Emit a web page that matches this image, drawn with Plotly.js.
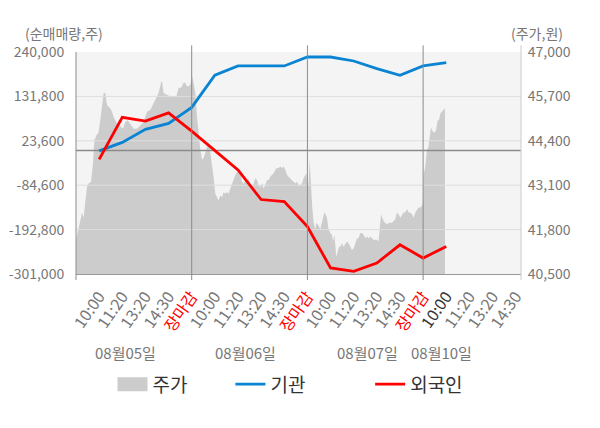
<!DOCTYPE html>
<html>
<head>
<meta charset="utf-8">
<script src="https://cdn.plot.ly/plotly-3.0.1.min.js"></script>
<style>
html, body { margin: 0; padding: 0; background: #fff; }
#myDiv { width: 600px; height: 428px; }
</style>
</head>
<body>
<div id="myDiv"></div>
<script>
var days = ['08월05일', '08월06일', '08월07일', '08월10일'];
var slotLabels = ['10:00', '11:20', '13:20', '14:30', '장마감'];
// where the date caption sits under each day (in day units)
var dayLabelPos = [0.426, 1.463, 2.518, 3.158];

var netTicks = [240000, 131800, 23600, -84600, -192800, -301000];
var priceTicks = [47000, 45700, 44400, 43100, 41800, 40500];

// cumulative net buying, one value per slot (last day only reached 10:00)
var instNet = [-1000, 19800, 51400, 66000, 104900,
               183400, 206000, 206000, 206000, 227800,
               227800, 218100, 199600, 183400, 206000,
               214200];
var foreignNet = [-21500, 80600, 71600, 91800, 47000,
                  0, -47500, -119500, -124500, -185300,
                  -286400, -294600, -274300, -229800, -262100,
                  -233900];

// share price, time in day units (0 = 08/05 open)
var priceTime = [0, .022, .043, .052, .066, .080, .095, .109, .130, .147, .158, .175, .195, .210, .225, .239, .253, .268, .282, .296,
  .311, .325, .354, .383, .406, .426, .446, .469, .498, .527, .556, .584, .614, .642, .671, .694, .714, .735, .743, .757,
  .787, .815, .844, .867, .887, .908, .930, .945, .959, .973, .988,
  1.003, 1.016, 1.031, 1.046, 1.060, 1.074, 1.089, 1.103, 1.118, 1.132, 1.146, 1.161, 1.175, 1.189, 1.204, 1.219, 1.232, 1.247, 1.262, 1.276,
  1.290, 1.305, 1.319, 1.334, 1.348, 1.362, 1.377, 1.392, 1.405, 1.420, 1.435, 1.449, 1.463, 1.478, 1.492, 1.506, 1.521, 1.535, 1.550, 1.564,
  1.578, 1.593, 1.608, 1.621, 1.636, 1.651, 1.665, 1.679, 1.694, 1.708, 1.723, 1.737, 1.751, 1.766, 1.780, 1.794, 1.809, 1.824, 1.837, 1.852,
  1.867, 1.881, 1.895, 1.910, 1.924, 1.939, 1.953, 1.967, 1.982, 1.990,
  2.002, 2.010, 2.019, 2.031, 2.042, 2.054, 2.068, 2.077, 2.088, 2.100, 2.111, 2.123, 2.135, 2.146, 2.157, 2.169, 2.183, 2.198, 2.213, 2.221,
  2.233, 2.241, 2.250, 2.261, 2.273, 2.284, 2.299, 2.313, 2.328, 2.342, 2.356, 2.371, 2.385, 2.399, 2.414, 2.429, 2.442, 2.457, 2.472, 2.486,
  2.500, 2.515, 2.529, 2.544, 2.558, 2.572, 2.587, 2.602, 2.615, 2.624, 2.636, 2.647, 2.659, 2.673, 2.688, 2.702, 2.716, 2.731, 2.745, 2.760,
  2.774, 2.788, 2.803, 2.818, 2.831, 2.846, 2.861, 2.875, 2.889, 2.904, 2.918, 2.933, 2.947, 2.961, 2.976, 2.990, 2.999,
  3.004, 3.019, 3.034, 3.045, 3.056, 3.068, 3.079, 3.091, 3.103, 3.114, 3.125, 3.137, 3.149, 3.160, 3.172, 3.183, 3.189];
var price = [41500, 41800, 42150, 42300, 42150, 42600, 43050, 43150, 43200, 43750, 44400, 44550, 44650, 45000, 45400, 45800, 45800, 45450, 45400, 45350,
  45250, 45100, 44900, 44800, 44750, 44950, 45000, 44900, 44750, 44750, 44850, 44950, 45250, 45300, 45500, 45650, 45800, 46100, 46150, 45800,
  45750, 45700, 45700, 45700, 45950, 45950, 46100, 46100, 46000, 46000, 46050,
  46300, 46100, 45800, 45100, 44600, 44150, 43850, 43900, 44050, 44200, 44350, 44050, 43750, 43350, 42850, 42750, 42650, 42800, 42750, 42900,
  42850, 42900, 42850, 43000, 43150, 43250, 43400, 43500, 43450, 43500, 43200, 43150, 43250, 43150, 43300, 43100, 43050, 43150, 43300, 43250,
  43100, 43050, 43150, 43000, 43100, 43250, 43250, 43350, 43400, 43450, 43550, 43600, 43600, 43650, 43600, 43650, 43550, 43400, 43350, 43300,
  43250, 43200, 43150, 43200, 43100, 43100, 43150, 43300, 43400, 43450,
  43050, 43100, 43850, 42950, 42450, 42000, 41800, 42000, 41950, 41900, 41800, 42000, 42150, 42300, 42250, 42150, 41800, 41700, 41650, 41450,
  41650, 41400, 41000, 41150, 41300, 41300, 41400, 41300, 41400, 41450, 41400, 41300, 41200, 41250, 41400, 41550, 41550, 41700, 41700, 41650,
  41550, 41600, 41550, 41600, 41550, 41500, 41500, 41500, 41450, 41900, 42250, 42150, 42050, 42000, 41950, 42000, 42000, 42000, 42050, 42100,
  42300, 42250, 42150, 42250, 42300, 42300, 42400, 42300, 42300, 42250, 42150, 42300, 42400, 42450, 42450, 42500, 42600,
  43400, 43650, 44150, 44200, 44500, 44800, 44700, 44650, 44650, 44750, 45000, 45000, 45200, 45250, 45300, 45350, 45350];

var xEnd = 3.846;

function fmt(v) {
  return v.toLocaleString('en-US');
}

// slot positions along the time axis: five per day
function slotX(i) {
  return Math.floor(i / 5) + (i % 5 + 1) / 5;
}

var tickX = [];
var tickText = [];
days.forEach(function (d, di) {
  slotLabels.forEach(function (s, si) {
    var x = di + (si + 1) / 5;
    if (x > xEnd) return;
    tickX.push(x);
    if (si === 4) {
      tickText.push('<span style="color:#ff0000">' + s + '</span>');
    } else if (di === days.length - 1 && si === 0) {
      tickText.push('<span style="color:#333333">' + s + '</span>');
    } else {
      tickText.push(s);
    }
  });
});

var netX = instNet.map(function (v, i) { return slotX(i); });

// inner grid lines of the net axis, drawn as a trace so they sit over the price area
var gridX = [], gridY = [];
netTicks.slice(1, -1).forEach(function (v) {
  gridX.push(0, xEnd, null);
  gridY.push(v, v, null);
});

var traces = [
  {
    name: '주가', x: priceTime, y: price, yaxis: 'y',
    type: 'scatter', mode: 'lines', fill: 'tozeroy',
    fillcolor: '#cccccc', line: {color: 'rgba(0,0,0,0)', width: 0},
    legend: 'legend'
  },
  {
    x: gridX, y: gridY, yaxis: 'y2', type: 'scatter', mode: 'lines',
    line: {color: '#dedede', width: 1}, showlegend: false, hoverinfo: 'skip'
  },
  {
    x: [0, xEnd], y: [0, 0], yaxis: 'y2', type: 'scatter', mode: 'lines',
    line: {color: '#8a8a8a', width: 1.3}, showlegend: false, hoverinfo: 'skip'
  },
  {
    name: '기관', x: netX, y: instNet, yaxis: 'y2',
    type: 'scatter', mode: 'lines', line: {color: '#0a84d2', width: 2.8},
    legend: 'legend2'
  },
  {
    name: '외국인', x: netX, y: foreignNet, yaxis: 'y2',
    type: 'scatter', mode: 'lines', line: {color: '#ff0000', width: 2.8},
    legend: 'legend3'
  }
];

var shapes = [];
for (var d = 1; d < days.length; d++) {
  shapes.push({type: 'line', xref: 'x', yref: 'paper', x0: d, x1: d, y0: -0.027, y1: 1.03,
    line: {color: '#8c8c8c', width: 1}});
}
shapes.push({type: 'line', xref: 'paper', yref: 'paper', x0: 0, x1: 0, y0: -0.027, y1: 1,
  line: {color: '#8c8c8c', width: 1}});
shapes.push({type: 'line', xref: 'paper', yref: 'paper', x0: 1, x1: 1, y0: -0.027, y1: 1.03,
  line: {color: '#cccccc', width: 1}});

var annotations = [
  {text: '(순매매량,주)', xref: 'paper', yref: 'paper', x: -0.119, y: 1.084,
   xanchor: 'left', yanchor: 'middle', showarrow: false, font: {size: 14, color: '#777'}},
  {text: '(주가,원)', xref: 'paper', yref: 'paper', x: 0.974, y: 1.084,
   xanchor: 'left', yanchor: 'middle', showarrow: false, font: {size: 14, color: '#777'}}
];
days.forEach(function (d, i) {
  annotations.push({text: d, xref: 'x', yref: 'paper', x: dayLabelPos[i], y: -0.353,
    xanchor: 'center', yanchor: 'middle', showarrow: false, font: {size: 15, color: '#777'}});
});

function legendAt(x) {
  return {x: x, y: -0.497, xanchor: 'left', yanchor: 'middle', orientation: 'h',
    bgcolor: 'rgba(0,0,0,0)', font: {size: 19, color: '#333'}};
}

var layout = {
  width: 600, height: 428,
  margin: {l: 76, r: 79, t: 52, b: 154},
  paper_bgcolor: '#ffffff',
  plot_bgcolor: '#f4f4f4',
  font: {family: '"Noto Sans CJK KR", "Noto Sans", sans-serif', color: '#777', size: 14},
  showlegend: true,
  xaxis: {
    range: [0, xEnd], tickmode: 'array', tickvals: tickX, ticktext: tickText,
    tickangle: -55, tickfont: {size: 16, color: '#777'},
    showgrid: false, zeroline: false, showline: true, linecolor: '#999', linewidth: 1,
    ticks: 'outside', ticklen: 6, tickcolor: 'rgba(0,0,0,0)'
  },
  yaxis: {
    side: 'right', range: [40500, 47000], tickmode: 'array',
    tickvals: priceTicks, ticktext: priceTicks.map(fmt),
    showgrid: false, zeroline: false, showline: false,
    ticks: 'outside', ticklen: 3, tickcolor: 'rgba(0,0,0,0)', tickfont: {size: 14, color: '#777'}
  },
  yaxis2: {
    overlaying: 'y', side: 'left', range: [-301000, 240000], tickmode: 'array',
    tickvals: netTicks, ticktext: netTicks.map(fmt),
    showgrid: false, zeroline: false, showline: false,
    ticks: 'outside', ticklen: 8, tickcolor: 'rgba(0,0,0,0)', tickfont: {size: 14, color: '#777'}
  },
  legend: legendAt(0.082),
  legend2: legendAt(0.347),
  legend3: legendAt(0.661),
  shapes: shapes,
  annotations: annotations
};

Plotly.newPlot('myDiv', traces, layout, {staticPlot: true, displayModeBar: false}).then(function (gd) {
  // the price key is a solid box in the original, not plotly's thin fill strip
  gd.querySelectorAll('.legendfill path').forEach(function (p) {
    p.setAttribute('d', 'M5,-7h30v14h-30z');
  });
});
</script>
</body>
</html>
